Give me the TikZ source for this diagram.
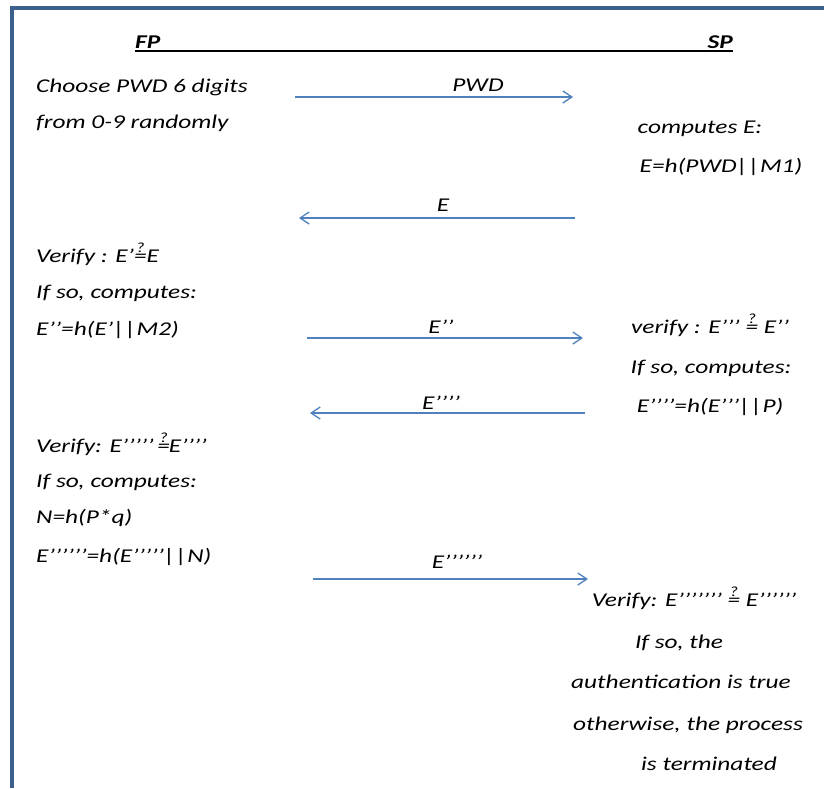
\documentclass[tikz,border=0pt]{standalone}
\usepackage{fontspec}
\setmainfont{Carlito}[FakeStretch=1.3]
\usetikzlibrary{arrows.meta}
\definecolor{frameblue}{HTML}{3C5F8C}
\definecolor{arrowblue}{HTML}{4F81BD}
\newcommand\qeq{\ooalign{=\cr\hidewidth\raisebox{1.0ex}{\fontsize{14}{14}\selectfont ?}\hidewidth\cr}}
\begin{document}
\begin{tikzpicture}[x=1pt,y=-1pt,
  txt/.style={font=\fontsize{19.5}{22}\selectfont\itshape, inner sep=0pt},
  lt/.style={txt, anchor=base west},
  ct/.style={txt, anchor=base},
  hdr/.style={font=\fontsize{19.5}{22}\selectfont\bfseries\itshape, inner sep=0pt},
  frame/.style={draw=frameblue, line width=3.5pt},
  msg/.style={draw=arrowblue, line width=1.3pt, -{Straight Barb[length=9pt,width=12pt,line width=1.3pt]}}]
\useasboundingbox (0,0) rectangle (824,788);
% frame
\draw[frame] (10,8) -- (824,8);
\draw[frame] (12,6.5) -- (12,788);
% headers
\node[hdr, anchor=base west] (fp) at (135,48) {FP};
\node[hdr, anchor=base east] (sp) at (733,48) {SP};
\draw[black, line width=1.8pt] (fp.south west |- 0,51) coordinate (ul1) -- (sp.south east |- 0,51) coordinate (ul2);
% left column
\node[lt] (l1) at (36,92) {Choose PWD 6 digits};
\node[lt] (l2) at (36,128) {from 0-9 randomly};
\node[lt] (l3) at (36,262) {Verify : E’\qeq E};
\node[lt] (l4) at (36,298) {If so, computes:};
\node[lt] (l5) at (36,335) {E’’=h(E’||M2)};
\node[lt] (l6) at (36,452) {Verify: E’’’’’ \kern-2pt\qeq\kern-1pt E’’’’};
\node[lt] (l7) at (36,487) {If so, computes:};
\node[lt] (l8) at (36,523) {N=h(P*q)};
\node[lt] (l9) at (36,562) {E’’’’’’=h(E’’’’’||N)};
% right column
\node[ct] (r1) at (700,133) {computes E:};
\node[ct] (r2) at (721,172) {E=h(PWD||M1)};
\node[ct] (r3) at (710,333) {verify : E’’’ \qeq\ E’’};
\node[ct] (r4) at (711,373) {If so, computes:};
\node[ct] (r5) at (710,412) {E’’’’=h(E’’’||P)};
\node[ct] (r6) at (694,606) {Verify: E’’’’’’’ \qeq\ E’’’’’’};
\node[ct] (r7) at (679,648) {If so, the};
\node[ct] (r8) at (681,688) {authentication is true};
\node[ct] (r9) at (688,730) {otherwise, the process};
\node[ct] (r10) at (709,770) {is terminated};
% messages
\coordinate (m1a) at (295,97); \coordinate (m1b) at (573,97);
\draw[msg] (m1a) -- (m1b);
\node[ct] (m1) at (478,91) {PWD};
\coordinate (m2a) at (575,218); \coordinate (m2b) at (299,218);
\draw[msg] (m2a) -- (m2b);
\node[ct] (m2) at (443,211) {E};
\coordinate (m3a) at (307,338); \coordinate (m3b) at (583,338);
\draw[msg] (m3a) -- (m3b);
\node[ct] (m3) at (441,333) {E’’};
\coordinate (m4a) at (585,413); \coordinate (m4b) at (310,413);
\draw[msg] (m4a) -- (m4b);
\node[ct] (m4) at (441,409) {E’’’’};
\coordinate (m5a) at (313,579); \coordinate (m5b) at (588,579);
\draw[msg] (m5a) -- (m5b);
\node[ct] (m5) at (457,568) {E’’’’’’};
\end{tikzpicture}
\end{document}
